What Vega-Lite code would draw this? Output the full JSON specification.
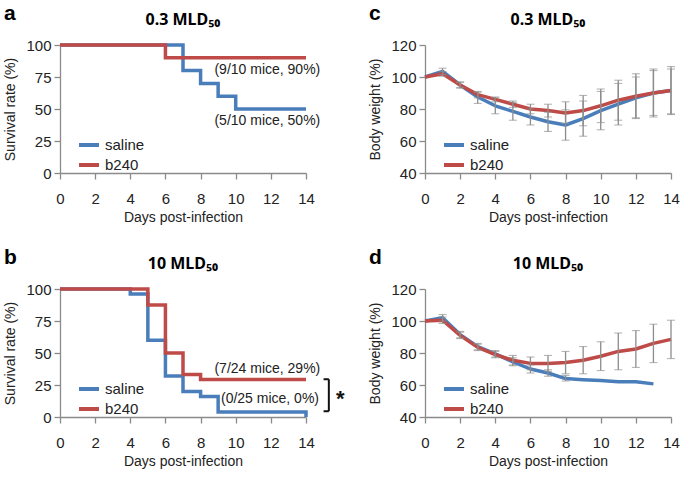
{
  "$schema": "https://vega.github.io/schema/vega-lite/v6.json",
  "padding": {"left": 3, "top": 3, "right": 2, "bottom": 2},
  "columns": 2,
  "spacing": {"row": 23, "column": 23},
  "datasets": {
    "survA": [
      {"day": 0, "pct": 100, "group": "saline"}, {"day": 7, "pct": 80, "group": "saline"}, {"day": 8, "pct": 70, "group": "saline"},
      {"day": 9, "pct": 60, "group": "saline"}, {"day": 10, "pct": 50, "group": "saline"}, {"day": 14, "pct": 50, "group": "saline"},
      {"day": 0, "pct": 100, "group": "b240"}, {"day": 6, "pct": 90, "group": "b240"}, {"day": 14, "pct": 90, "group": "b240"}
    ],
    "survB": [
      {"day": 0, "pct": 100, "group": "saline"}, {"day": 4, "pct": 96, "group": "saline"}, {"day": 5, "pct": 60, "group": "saline"},
      {"day": 6, "pct": 32, "group": "saline"}, {"day": 7, "pct": 20, "group": "saline"}, {"day": 8, "pct": 16, "group": "saline"},
      {"day": 9, "pct": 4, "group": "saline"}, {"day": 14, "pct": 0, "group": "saline"},
      {"day": 0, "pct": 100, "group": "b240"}, {"day": 5, "pct": 87.5, "group": "b240"}, {"day": 6, "pct": 50, "group": "b240"},
      {"day": 7, "pct": 33.3, "group": "b240"}, {"day": 8, "pct": 29.2, "group": "b240"}, {"day": 14, "pct": 29.2, "group": "b240"}
    ],
    "annA": [
      {"day": 11.8, "pct": 80.3, "label": "(9/10 mice, 90%)"},
      {"day": 11.8, "pct": 40.3, "label": "(5/10 mice, 50%)"}
    ],
    "annB": [
      {"day": 11.8, "pct": 37.7, "label": "(7/24 mice, 29%)"},
      {"day": 11.95, "pct": 14.3, "label": "(0/25 mice, 0%)"}
    ],
    "bracketB": [
      {"day": 15.3, "day2": 15.3, "pct": 29.5, "pct2": 4.5},
      {"day": 15.0, "day2": 15.3, "pct": 29.5, "pct2": 29.5},
      {"day": 15.0, "day2": 15.3, "pct": 4.5, "pct2": 4.5}
    ],
    "starB": [{"day": 15.95, "pct": 14, "label": "*"}],
    "wtC": [
      {"day": 0, "group": "saline", "mean": 100, "lo": null, "hi": null},
      {"day": 1, "group": "saline", "mean": 103.5, "lo": 101.5, "hi": 105.5},
      {"day": 2, "group": "saline", "mean": 95, "lo": 93, "hi": 97},
      {"day": 3, "group": "saline", "mean": 87.5, "lo": 83.5, "hi": 90.5},
      {"day": 4, "group": "saline", "mean": 82, "lo": 77, "hi": 87},
      {"day": 5, "group": "saline", "mean": 78.5, "lo": 73, "hi": 84},
      {"day": 6, "group": "saline", "mean": 75, "lo": 70, "hi": 80},
      {"day": 7, "group": "saline", "mean": 72, "lo": 66, "hi": 78},
      {"day": 8, "group": "saline", "mean": 70, "lo": 60.5, "hi": 79.5},
      {"day": 9, "group": "saline", "mean": 74, "lo": 63, "hi": 85},
      {"day": 10, "group": "saline", "mean": 79, "lo": 67, "hi": 91},
      {"day": 11, "group": "saline", "mean": 83, "lo": 70, "hi": 96},
      {"day": 12, "group": "saline", "mean": 87, "lo": 74, "hi": 100},
      {"day": 13, "group": "saline", "mean": 90, "lo": 75, "hi": 105},
      {"day": 14, "group": "saline", "mean": 91.5, "lo": 77, "hi": 106.5},
      {"day": 0, "group": "b240", "mean": 100, "lo": null, "hi": null},
      {"day": 1, "group": "b240", "mean": 102, "lo": 100.5, "hi": 103.5},
      {"day": 2, "group": "b240", "mean": 95, "lo": 93.5, "hi": 96.5},
      {"day": 3, "group": "b240", "mean": 89, "lo": 87, "hi": 91},
      {"day": 4, "group": "b240", "mean": 86, "lo": 84.5, "hi": 87.5},
      {"day": 5, "group": "b240", "mean": 83, "lo": 81, "hi": 85},
      {"day": 6, "group": "b240", "mean": 80, "lo": 77, "hi": 83},
      {"day": 7, "group": "b240", "mean": 79, "lo": 75, "hi": 83},
      {"day": 8, "group": "b240", "mean": 77.5, "lo": 71, "hi": 84.5},
      {"day": 9, "group": "b240", "mean": 79, "lo": 69.5, "hi": 88.5},
      {"day": 10, "group": "b240", "mean": 82, "lo": 71.5, "hi": 92.5},
      {"day": 11, "group": "b240", "mean": 85.5, "lo": 73, "hi": 98},
      {"day": 12, "group": "b240", "mean": 88, "lo": 74.5, "hi": 102},
      {"day": 13, "group": "b240", "mean": 90, "lo": 76, "hi": 104},
      {"day": 14, "group": "b240", "mean": 91.5, "lo": 76.5, "hi": 105}
    ],
    "wtD": [
      {"day": 0, "group": "saline", "mean": 100, "lo": null, "hi": null},
      {"day": 1, "group": "saline", "mean": 102, "lo": 100, "hi": 104},
      {"day": 2, "group": "saline", "mean": 91.5, "lo": 89.5, "hi": 93.5},
      {"day": 3, "group": "saline", "mean": 84, "lo": 82, "hi": 86},
      {"day": 4, "group": "saline", "mean": 79.5, "lo": 77.5, "hi": 81.5},
      {"day": 5, "group": "saline", "mean": 74.5, "lo": 72, "hi": 77},
      {"day": 6, "group": "saline", "mean": 70, "lo": 67.5, "hi": 72.5},
      {"day": 7, "group": "saline", "mean": 67.5, "lo": 65.5, "hi": 69.5},
      {"day": 8, "group": "saline", "mean": 64, "lo": 62.5, "hi": 66},
      {"day": 9, "group": "saline", "mean": 63.3, "lo": null, "hi": null},
      {"day": 10, "group": "saline", "mean": 62.8, "lo": null, "hi": null},
      {"day": 11, "group": "saline", "mean": 62, "lo": null, "hi": null},
      {"day": 12, "group": "saline", "mean": 62, "lo": null, "hi": null},
      {"day": 13, "group": "saline", "mean": 60.7, "lo": null, "hi": null},
      {"day": 0, "group": "b240", "mean": 100, "lo": null, "hi": null},
      {"day": 1, "group": "b240", "mean": 100.5, "lo": 98.5, "hi": 102.5},
      {"day": 2, "group": "b240", "mean": 91, "lo": 89, "hi": 93},
      {"day": 3, "group": "b240", "mean": 83.5, "lo": 81.5, "hi": 85.5},
      {"day": 4, "group": "b240", "mean": 79, "lo": 77, "hi": 81},
      {"day": 5, "group": "b240", "mean": 75.5, "lo": 72.5, "hi": 78.5},
      {"day": 6, "group": "b240", "mean": 73.5, "lo": 69.5, "hi": 77.5},
      {"day": 7, "group": "b240", "mean": 73.5, "lo": 68.5, "hi": 78.5},
      {"day": 8, "group": "b240", "mean": 74, "lo": 67, "hi": 81},
      {"day": 9, "group": "b240", "mean": 75.5, "lo": 67, "hi": 84},
      {"day": 10, "group": "b240", "mean": 78, "lo": 69, "hi": 87},
      {"day": 11, "group": "b240", "mean": 81, "lo": 69.5, "hi": 92.5},
      {"day": 12, "group": "b240", "mean": 82.5, "lo": 71, "hi": 94},
      {"day": 13, "group": "b240", "mean": 86, "lo": 74, "hi": 98},
      {"day": 14, "group": "b240", "mean": 88.5, "lo": 76.5, "hi": 100.5}
    ]
  },
  "concat": [
    {
      "title": {"text": "a", "anchor": "start", "frame": "bounds", "fontSize": 21, "fontWeight": "bold", "offset": -12, "color": "#000"},
      "vconcat": [
        {
          "width": 246, "height": 128,
          "title": {"text": "0.3 MLD₅₀", "font": "Noto Sans", "fontSize": 16, "fontWeight": "bold", "offset": 10, "color": "#000"},
          "layer": [
            {
              "data": {"name": "survA"},
              "mark": {"type": "line", "interpolate": "step-after", "strokeWidth": 3.5},
              "encoding": {
                "x": {"field": "day", "type": "quantitative", "scale": {"domain": [0, 14], "nice": false}, "axis": {"values": [0, 2, 4, 6, 8, 10, 12, 14], "tickCount": 20, "format": "d", "title": "Days post-infection"}},
                "y": {"field": "pct", "type": "quantitative", "scale": {"domain": [0, 100], "nice": false}, "axis": {"values": [0, 25, 50, 75, 100], "tickCount": 20, "format": "d", "title": "Survival rate (%)"}},
                "color": {"field": "group", "type": "nominal", "scale": {"domain": ["saline", "b240"], "range": ["#4a7ebb", "#be4b48"]}, "legend": {"orient": "none", "legendX": 17, "legendY": 88}}
              }
            },
            {
              "data": {"name": "annA"},
              "mark": {"type": "text", "fontSize": 14, "color": "#222"},
              "encoding": {
                "x": {"field": "day", "type": "quantitative"},
                "y": {"field": "pct", "type": "quantitative"},
                "text": {"field": "label"}
              }
            }
          ]
        }
      ]
    },
    {
      "title": {"text": "c", "anchor": "start", "frame": "bounds", "fontSize": 21, "fontWeight": "bold", "offset": -12, "color": "#000"},
      "vconcat": [
        {
          "width": 246, "height": 128,
          "title": {"text": "0.3 MLD₅₀", "font": "Noto Sans", "fontSize": 16, "fontWeight": "bold", "offset": 10, "color": "#000"},
          "data": {"name": "wtC"},
          "layer": [
            {
              "mark": {"type": "line", "strokeWidth": 3.5, "strokeJoin": "round"},
              "encoding": {
                "x": {"field": "day", "type": "quantitative", "scale": {"domain": [0, 14], "nice": false}, "axis": {"values": [0, 2, 4, 6, 8, 10, 12, 14], "tickCount": 20, "format": "d", "title": "Days post-infection"}},
                "y": {"field": "mean", "type": "quantitative", "scale": {"domain": [40, 120], "nice": false, "zero": false}, "axis": {"values": [40, 60, 80, 100, 120], "tickCount": 20, "format": "d", "title": "Body weight (%)"}},
                "color": {"field": "group", "type": "nominal", "scale": {"domain": ["saline", "b240"], "range": ["#4a7ebb", "#be4b48"]}, "legend": {"orient": "none", "legendX": 17, "legendY": 88}}
              }
            },
            {
              "transform": [{"filter": "datum.lo != null"}],
              "mark": {"type": "errorbar", "ticks": {"size": 8, "color": "#8c8c8c", "strokeWidth": 1.3}, "rule": {"color": "#8c8c8c", "strokeWidth": 1.3}},
              "encoding": {
                "x": {"field": "day", "type": "quantitative"},
                "y": {"field": "lo", "type": "quantitative", "title": "Body weight (%)"},
                "y2": {"field": "hi"}
              }
            }
          ]
        }
      ]
    },
    {
      "title": {"text": "b", "anchor": "start", "frame": "bounds", "fontSize": 21, "fontWeight": "bold", "offset": -12, "color": "#000"},
      "vconcat": [
        {
          "width": 246, "height": 128,
          "title": {"text": "10 MLD₅₀", "font": "Noto Sans", "fontSize": 16, "fontWeight": "bold", "offset": 10, "color": "#000"},
          "layer": [
            {
              "data": {"name": "survB"},
              "mark": {"type": "line", "interpolate": "step-after", "strokeWidth": 3.5},
              "encoding": {
                "x": {"field": "day", "type": "quantitative", "scale": {"domain": [0, 14], "nice": false}, "axis": {"values": [0, 2, 4, 6, 8, 10, 12, 14], "tickCount": 20, "format": "d", "title": "Days post-infection"}},
                "y": {"field": "pct", "type": "quantitative", "scale": {"domain": [0, 100], "nice": false}, "axis": {"values": [0, 25, 50, 75, 100], "tickCount": 20, "format": "d", "title": "Survival rate (%)"}},
                "color": {"field": "group", "type": "nominal", "scale": {"domain": ["saline", "b240"], "range": ["#4a7ebb", "#be4b48"]}, "legend": {"orient": "none", "legendX": 17, "legendY": 88}}
              }
            },
            {
              "data": {"name": "annB"},
              "mark": {"type": "text", "fontSize": 14, "color": "#222"},
              "encoding": {
                "x": {"field": "day", "type": "quantitative"},
                "y": {"field": "pct", "type": "quantitative"},
                "text": {"field": "label"}
              }
            },
            {
              "data": {"name": "bracketB"},
              "mark": {"type": "rule", "strokeWidth": 2, "color": "#111"},
              "encoding": {
                "x": {"field": "day", "type": "quantitative"},
                "x2": {"field": "day2"},
                "y": {"field": "pct", "type": "quantitative"},
                "y2": {"field": "pct2"}
              }
            },
            {
              "data": {"name": "starB"},
              "mark": {"type": "text", "fontSize": 22, "fontWeight": "bold", "color": "#111", "baseline": "middle"},
              "encoding": {
                "x": {"field": "day", "type": "quantitative"},
                "y": {"field": "pct", "type": "quantitative"},
                "text": {"field": "label"}
              }
            }
          ]
        }
      ]
    },
    {
      "title": {"text": "d", "anchor": "start", "frame": "bounds", "fontSize": 21, "fontWeight": "bold", "offset": -12, "color": "#000"},
      "vconcat": [
        {
          "width": 246, "height": 128,
          "title": {"text": "10 MLD₅₀", "font": "Noto Sans", "fontSize": 16, "fontWeight": "bold", "offset": 10, "color": "#000"},
          "data": {"name": "wtD"},
          "layer": [
            {
              "mark": {"type": "line", "strokeWidth": 3.5, "strokeJoin": "round"},
              "encoding": {
                "x": {"field": "day", "type": "quantitative", "scale": {"domain": [0, 14], "nice": false}, "axis": {"values": [0, 2, 4, 6, 8, 10, 12, 14], "tickCount": 20, "format": "d", "title": "Days post-infection"}},
                "y": {"field": "mean", "type": "quantitative", "scale": {"domain": [40, 120], "nice": false, "zero": false}, "axis": {"values": [40, 60, 80, 100, 120], "tickCount": 20, "format": "d", "title": "Body weight (%)"}},
                "color": {"field": "group", "type": "nominal", "scale": {"domain": ["saline", "b240"], "range": ["#4a7ebb", "#be4b48"]}, "legend": {"orient": "none", "legendX": 17, "legendY": 88}}
              }
            },
            {
              "transform": [{"filter": "datum.lo != null"}],
              "mark": {"type": "errorbar", "ticks": {"size": 8, "color": "#8c8c8c", "strokeWidth": 1.3}, "rule": {"color": "#8c8c8c", "strokeWidth": 1.3}},
              "encoding": {
                "x": {"field": "day", "type": "quantitative"},
                "y": {"field": "lo", "type": "quantitative", "title": "Body weight (%)"},
                "y2": {"field": "hi"}
              }
            }
          ]
        }
      ]
    }
  ],
  "resolve": {"scale": {"color": "independent"}, "legend": {"color": "independent"}},
  "config": {
    "font": "Liberation Sans",
    "view": {"stroke": null},
    "axis": {
      "grid": false, "domainColor": "#8a8a8a", "tickColor": "#8a8a8a", "domainWidth": 1.3, "tickWidth": 1.3, "tickSize": 6,
      "labelColor": "#222", "titleColor": "#222", "labelFontSize": 15, "titleFontSize": 14, "titleFontWeight": "normal", "labelPadding": 3,
      "labelOverlap": false, "labelFlush": false
    },
    "axisX": {"labelPadding": 12, "titlePadding": 4},
    "axisY": {"titlePadding": 8},
    "legend": {
      "title": null, "symbolType": "stroke", "symbolStrokeWidth": 4, "symbolSize": 400, "labelFontSize": 15, "labelColor": "#222",
      "rowPadding": 0, "labelOffset": 4
    }
  }
}
